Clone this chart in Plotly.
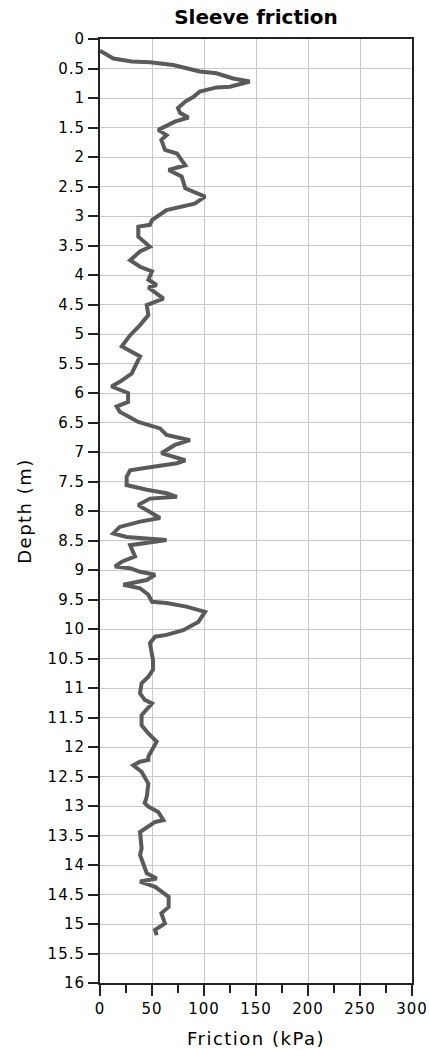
import plotly.graph_objects as go

friction = [0, 1.6, 12.8, 30.4, 48, 70.5, 96, 112, 128, 144, 125, 112, 96, 90, 82, 75, 76.9, 85, 72, 56, 64, 59, 62.5, 74, 82, 66, 78.5, 82, 101, 91, 64, 50,
            48, 36.8, 36.8, 48, 38.5, 29, 38.5, 50, 46.5, 54.5, 46.5, 61, 45, 46.5, 38.5, 29, 21, 38.5, 30.4, 19, 11, 27, 27, 16, 19, 36.8, 57.7, 64, 86.5, 72,
            59, 82, 74, 51, 29, 25.6, 25.6, 45, 64, 74, 48, 36.8, 45, 57.7, 38.5, 19, 12.8, 25.6, 64, 29, 33.7, 21, 14.4, 29, 38.5, 53, 45, 22.4, 38.5, 46.5, 50,
            64, 83, 101, 94.5, 80, 64, 53, 48, 51, 51, 46.5, 40, 38.5, 43, 50, 40, 40, 46.5, 54.5, 46.5, 46.5, 38.5, 32, 40, 46.5, 45, 43, 46.5, 56, 61, 53, 38.5,
            40, 38.5, 43, 45, 54.5, 38.5, 53, 66, 66, 59, 62.5, 53, 54.5, 57.7]
depth = [0.2, 0.215, 0.33, 0.38, 0.395, 0.44, 0.55, 0.58, 0.67, 0.72, 0.81, 0.82, 0.89, 0.98, 1.06, 1.17, 1.25, 1.33, 1.40, 1.54, 1.63, 1.71, 1.88, 1.94, 2.14, 2.22, 2.33, 2.53, 2.67, 2.79, 2.90, 3.07,
         3.15, 3.18, 3.35, 3.52, 3.60, 3.75, 3.86, 3.94, 4.08, 4.17, 4.21, 4.40, 4.51, 4.68, 4.85, 5.02, 5.21, 5.38, 5.67, 5.81, 5.89, 6.00, 6.15, 6.23, 6.32, 6.49, 6.60, 6.71, 6.80, 6.88,
         7.02, 7.14, 7.19, 7.25, 7.31, 7.42, 7.56, 7.64, 7.70, 7.76, 7.79, 7.90, 7.98, 8.12, 8.18, 8.27, 8.38, 8.44, 8.49, 8.58, 8.77, 8.86, 8.94, 8.97, 9.03, 9.08, 9.17, 9.25, 9.31, 9.42, 9.54,
         9.56, 9.62, 9.71, 9.88, 10.02, 10.10, 10.13, 10.24, 10.53, 10.69, 10.81, 10.92, 11.09, 11.20, 11.26, 11.46, 11.63, 11.77, 11.91, 12.16, 12.22, 12.25, 12.31, 12.42, 12.62, 12.84, 12.95, 13.01, 13.10, 13.24, 13.27,
         13.44, 13.72, 13.83, 14.06, 14.14, 14.23, 14.28, 14.37, 14.54, 14.71, 14.82, 14.99, 15.10, 15.19]

x_range = [0, 300]
y_range = [16, 0]

fig = go.Figure()
fig.add_trace(go.Scatter(x=friction, y=depth, mode="lines",
                         line=dict(color="#5a5a5a", width=4), showlegend=False))

font_family = "DejaVu Sans, Verdana, sans-serif"
fig.update_layout(
    width=429, height=1050,
    margin=dict(l=100, r=17, t=39, b=67),
    paper_bgcolor="white", plot_bgcolor="white",
    font=dict(family=font_family, size=14, color="black"),
    title=dict(text="<b>Sleeve friction</b>", x=0.5, xref="paper", xanchor="center",
               y=1 - 17 / 1050, yref="container", yanchor="middle",
               font=dict(size=20, family=font_family, color="black")),
    xaxis=dict(range=x_range, dtick=50, tick0=0, showgrid=True, gridcolor="#c8c8c8", gridwidth=1,
               showline=True, linecolor="#222", linewidth=2, mirror=True,
               ticks="outside", ticklen=11, tickwidth=2, tickcolor="#222",
               minor=dict(dtick=25, ticks="outside", ticklen=8, tickwidth=2, tickcolor="#222", showgrid=False),
               title=dict(text="Friction (kPa)", font=dict(size=18), standoff=15),
               tickfont=dict(size=15), zeroline=False, automargin=False),
    yaxis=dict(range=y_range, dtick=0.5, tick0=0, showgrid=True, gridcolor="#c8c8c8", gridwidth=1,
               showline=True, linecolor="#222", linewidth=2, mirror=True,
               ticks="outside", ticklen=10, tickwidth=2, tickcolor="#222",
               title=dict(text="Depth (m)", font=dict(size=18), standoff=15),
               tickfont=dict(size=15), zeroline=False, automargin=False),
)

post = """
document.body.style.margin = '0';
document.documentElement.style.overflow = 'hidden';
var st = document.createElement('style');
st.textContent = '.main-svg .xtick text, .main-svg .ytick text {letter-spacing: 1px;} ' +
                 '.main-svg .g-xtitle text, .main-svg .g-ytitle text {letter-spacing: 1.5px;}';
document.head.appendChild(st);
"""
fig.write_html("out.html", post_script=post, config={"displayModeBar": False})
